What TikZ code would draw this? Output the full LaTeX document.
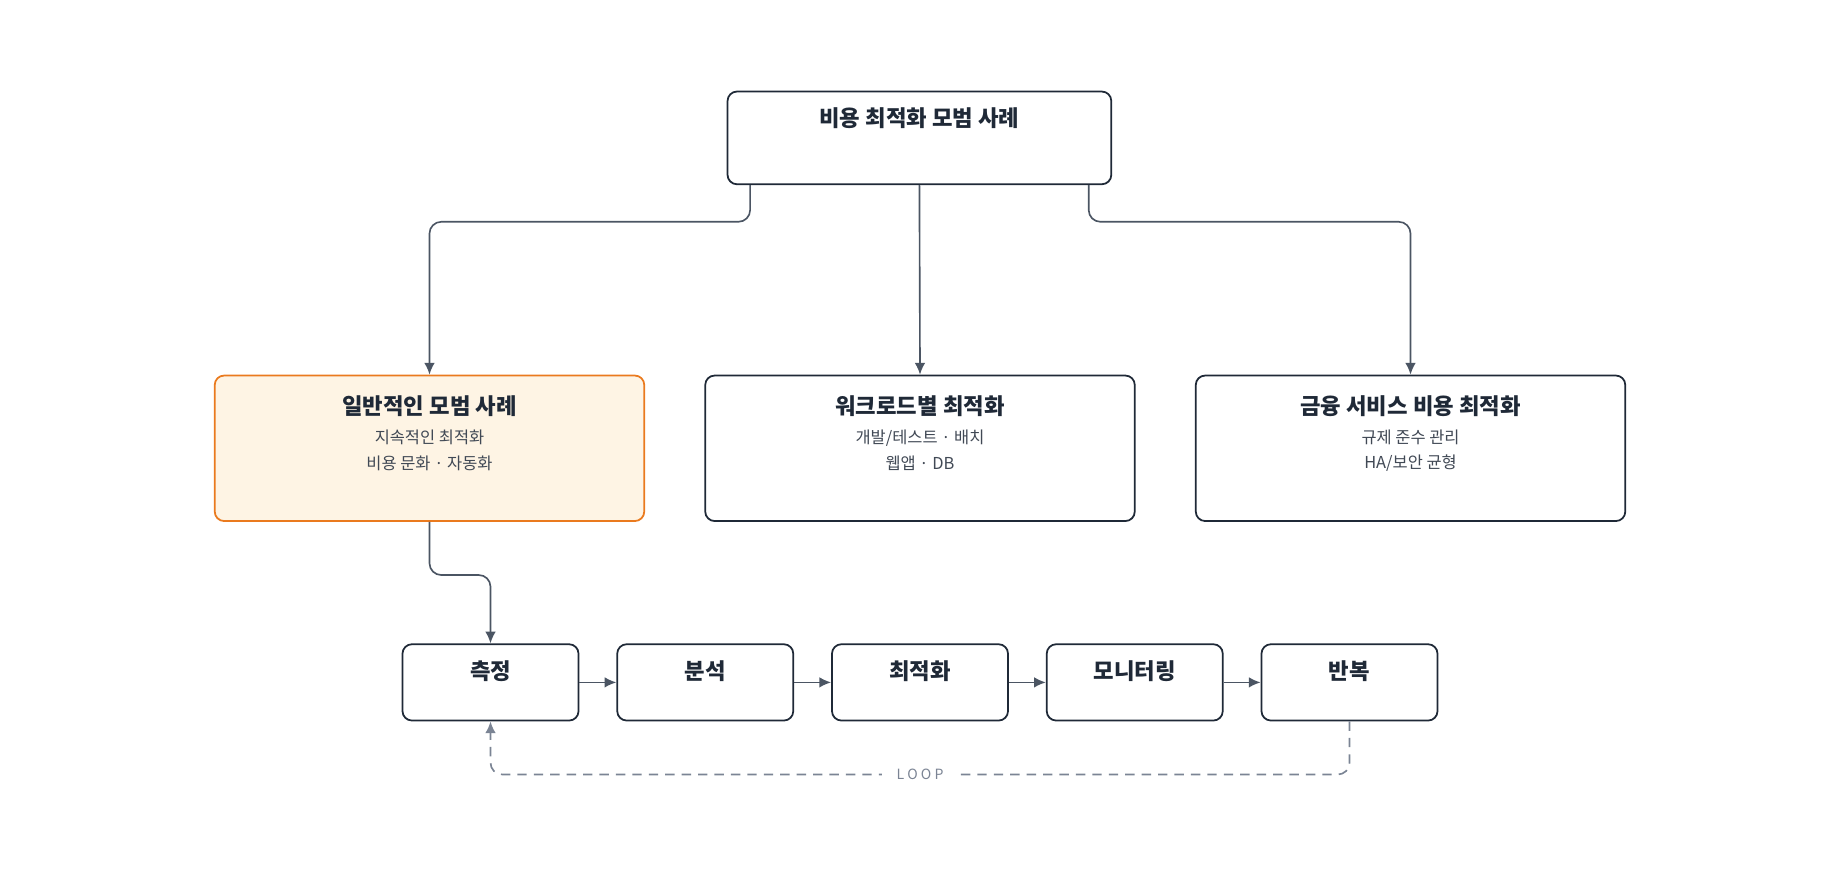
\documentclass[tikz,border=0pt]{standalone}
\usepackage{fontspec}
\setmainfont{Noto Sans CJK KR}
\usetikzlibrary{positioning,arrows.meta}
\definecolor{ink}{HTML}{1F2937}
\definecolor{wire}{HTML}{4B5563}
\definecolor{orng}{HTML}{EA7A1E}
\definecolor{cream}{HTML}{FEF4E4}
\definecolor{loopc}{HTML}{7B8494}
\tikzset{
  box/.style={draw=ink,line width=0.75pt,rounded corners=4pt,fill=white,inner sep=0pt},
  hot/.style={box,draw=orng,fill=cream},
  head/.style={font=\bfseries\fontsize{9.5}{11}\selectfont,text=ink,inner sep=0pt},
  sub/.style={font=\fontsize{7}{11}\selectfont,text=ink!85,align=center,inner sep=0pt},
  wire/.style={draw=wire,line width=0.7pt,rounded corners=5pt,-{Latex[length=5pt,width=4.5pt]}}
}
\begin{document}
\begin{tikzpicture}[x=0.5pt,y=-0.5pt]
  \useasboundingbox (0,0) rectangle (1568,752);
  % top
  \node[box,minimum width=163.5pt,minimum height=39.5pt] (top) at (783.5,117.5) {};
  \node[head] (toph) at (783.5,101) {비용 최적화 모범 사례};
  % second row
  \node[hot,minimum width=183pt,minimum height=62pt] (gen) at (366,382) {};
  \node[head] (genh) at (366,346) {일반적인 모범 사례};
  \node[sub] (gens) at (366,384) {지속적인 최적화\\비용 문화 · 자동화};
  \node[box,minimum width=183pt,minimum height=62pt] (work) at (784,382) {};
  \node[head] (workh) at (784,346) {워크로드별 최적화};
  \node[sub] (works) at (784,384) {개발/테스트 · 배치\\웹앱 · DB};
  \node[box,minimum width=183pt,minimum height=62pt] (fin) at (1202,382) {};
  \node[head] (finh) at (1202,346) {금융 서비스 비용 최적화};
  \node[sub] (fins) at (1202,384) {규제 준수 관리\\HA/보안 균형};
  % cycle
  \foreach \n/\x/\t in {s1/418/측정,s2/601/분석,s3/784/최적화,s4/967/모니터링,s5/1150/반복}{
    \node[box,minimum width=75pt,minimum height=32.5pt] (\n) at (\x,581.5) {};
    \node[head] (\n h) at (\x,572) {\t};
  }
  \draw[wire] ([xshift=10pt]top.south west) |- (366,189) -- (gen.north);
  \draw[wire] (top.south) -- (work.north);
  \draw[wire] ([xshift=-10pt]top.south east) |- (1202,189) -- (fin.north);
  \draw[wire] (gen.south) |- (418,490) -- (s1.north);
  \foreach \a/\b in {s1/s2,s2/s3,s3/s4,s4/s5}
    \draw[wire] (\a.east) -- (\b.west);
  \draw[wire,draw=loopc,dashed,dash pattern=on 4pt off 3pt] (s5.south) |- (784,660) -| (s1.south);
  \node[fill=white,text=loopc,font=\fontsize{6}{7}\selectfont,inner xsep=6pt] (loop) at (784,660) {L O O P};
\end{tikzpicture}
\end{document}
